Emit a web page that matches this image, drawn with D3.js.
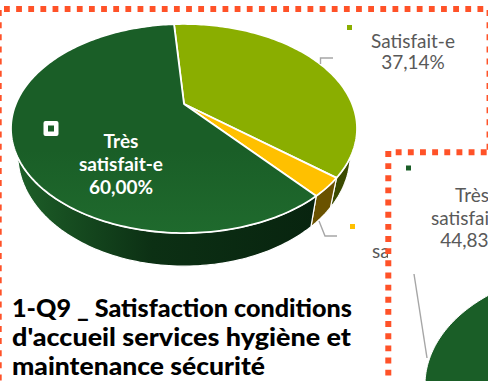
<!DOCTYPE html>
<html>
<head>
<meta charset="utf-8">
<script src="https://cdn.jsdelivr.net/npm/d3@7"></script>
<style>
  html, body { margin: 0; padding: 0; background: #fff; }
  svg { display: block; }
</style>
</head>
<body>
<div id="chart"></div>
<script>
// values
var categories = ["Satisfait-e", "Peu satisfait-e", "Très satisfait-e"];
var values = [37.14, 2.86, 60.00];
var labels = ["37,14%", "2,86%", "60,00%"];
var colors = ["#8aae00", "#ffc000", "#1a5e27"];
var wallColors = ["#3b4a00", "#6a5200", "#0b2c12"];

var secondCategories = ["Très satisfait-e"];
var secondValues = [44.83, 55.17];
var secondLabels = ["44,83%"];

var titleLines = [
  "1-Q9 _ Satisfaction conditions",
  "d'accueil services hygiène et",
  "maintenance sécurité"
];
var titleWidths = [340, 339, 253];

var w = 488, h = 381;
var orange = "#ff5228";
var textFont = "Lato, 'Open Sans', sans-serif";

var svg = d3.select("#chart").append("svg")
  .attr("width", w)
  .attr("height", h);

var defs = svg.append("defs");
var grad = defs.append("linearGradient").attr("id", "wallGreen");
grad.append("stop").attr("offset", "0%").attr("stop-color", "#1d5f28");
grad.append("stop").attr("offset", "45%").attr("stop-color", "#0c3014");
grad.append("stop").attr("offset", "100%").attr("stop-color", "#08240f");

var faceGrad = defs.append("linearGradient").attr("id", "faceGreen")
  .attr("x1", 0).attr("y1", 0).attr("x2", 0).attr("y2", 1);
faceGrad.append("stop").attr("offset", "60%").attr("stop-color", "#1a5e27");
faceGrad.append("stop").attr("offset", "100%").attr("stop-color", "#1f6a2d");

// the pie is tilted: circle points go through a perspective projection
function project(p, a) {
  var u = Math.sin(a), v = Math.cos(a);
  var d = 1 + p.k * v;
  return [p.x + p.a * u / d, p.y - p.b * v / d];
}

function sample(p, a0, a1) {
  var n = Math.max(2, Math.ceil(Math.abs(a1 - a0) / 0.02));
  return d3.range(n + 1).map(function(i) {
    return project(p, a0 + (a1 - a0) * i / n);
  });
}

var line = d3.line();
var rad = Math.PI / 180;

var topFace = { x: 184, y: 104, a: 168.2, b: 98.8, k: 0.2344 };
var lowFace = { x: 184, y: 129, a: 161.5, b: 105, k: 0.2344 };

var startAngle = -4.2 * rad;
var pie = d3.pie().sort(null).startAngle(startAngle).endAngle(startAngle + 2 * Math.PI);
var slices = pie(values);

// side walls, only the front part of the rim shows
// the back ends of the rim narrow down to a tip on each side
slices.forEach(function(d, i) {
  var a0 = d.startAngle, a1 = d.endAngle, b0 = a0, b1 = a1;
  if (i == 0) { a0 = 118 * rad; b0 = 110 * rad; }
  if (i == 2) { a1 = 242 * rad; b1 = 250 * rad; }
  var pts = sample(topFace, a0, a1).concat(sample(lowFace, b1, b0));
  svg.append("path")
    .attr("d", line(pts) + "Z")
    .attr("fill", i == 2 ? "url(#wallGreen)" : wallColors[i])
    .attr("stroke", "#fff")
    .attr("stroke-width", 1.2)
    .attr("stroke-linejoin", "round");
});

// top faces
slices.forEach(function(d, i) {
  var pts = [[topFace.x, topFace.y]].concat(sample(topFace, d.startAngle, d.endAngle));
  svg.append("path")
    .attr("d", line(pts) + "Z")
    .attr("fill", i == 2 ? "url(#faceGreen)" : colors[i])
    .attr("stroke", "#fff")
    .attr("stroke-width", 1.8)
    .attr("stroke-linejoin", "round");
});

// white legend key on the big slice
svg.append("rect").attr("x", 43.5).attr("y", 121).attr("width", 15).attr("height", 15)
  .attr("rx", 2).attr("fill", "#fff");
svg.append("rect").attr("x", 48).attr("y", 125.5).attr("width", 6).attr("height", 6)
  .attr("fill", colors[2]);

var bigLabel = svg.append("g")
  .attr("font-family", textFont)
  .attr("font-size", 19)
  .attr("font-weight", 700)
  .attr("fill", "#fff")
  .attr("text-anchor", "middle");
bigLabel.append("text").attr("x", 121).attr("y", 148).text("Très");
bigLabel.append("text").attr("x", 121).attr("y", 171).text("satisfait-e");
bigLabel.append("text").attr("x", 121).attr("y", 194).text(labels[2]);

// leader lines
var leader = d3.line();
svg.append("path")
  .attr("d", leader([[320.5, 64], [320.5, 58], [333, 58]]))
  .attr("fill", "none").attr("stroke", "#a6a6a6").attr("stroke-width", 1.4);
svg.append("path")
  .attr("d", leader([[319, 221], [325, 236], [337, 236]]))
  .attr("fill", "none").attr("stroke", "#a6a6a6").attr("stroke-width", 1.4);

// outside labels with their small keys
svg.append("rect").attr("x", 347).attr("y", 25).attr("width", 5).attr("height", 5).attr("fill", colors[0]);
svg.append("rect").attr("x", 350).attr("y", 224).attr("width", 5).attr("height", 5).attr("fill", colors[1]);

var outLabel = svg.append("g")
  .attr("font-family", textFont)
  .attr("font-size", 19)
  .attr("fill", "#595959")
  .attr("text-anchor", "middle");
outLabel.append("text").attr("x", 413).attr("y", 48).text(categories[0]);
outLabel.append("text").attr("x", 413).attr("y", 69).text(labels[0]);
// this one runs under the second panel, only its start shows
outLabel.append("text").attr("x", 372).attr("y", 258).attr("text-anchor", "start").text("satisfait-e");

// title, stretched to the widths of the reference lines
var title = svg.append("g")
  .attr("font-family", textFont)
  .attr("font-size", 24)
  .attr("font-weight", 900)
  .attr("fill", "#000");
title.selectAll("text")
  .data(titleLines)
  .enter()
  .append("text")
  .attr("x", 12)
  .attr("y", function(d, i) { return 317 + i * 29; })
  .attr("textLength", function(d, i) { return titleWidths[i]; })
  .attr("lengthAdjust", "spacingAndGlyphs")
  .text(function(d) { return d; });

// first panel border
function dotted(x1, y1, x2, y2, width, dash) {
  svg.append("line")
    .attr("x1", x1).attr("y1", y1).attr("x2", x2).attr("y2", y2)
    .attr("stroke", orange)
    .attr("stroke-width", width)
    .attr("stroke-dasharray", dash);
}
dotted(4, 9, 488, 9, 6, "5.8 6.34");
dotted(0.8, 10, 0.8, 381, 1.8, "6 6.15");
dotted(487.3, 10, 487.3, 150, 1.5, "6 6.15");

// second panel sits on top of the first one
svg.append("rect").attr("x", 388).attr("y", 153).attr("width", 100).attr("height", 228).attr("fill", "#fff");

var secondFace = { x: 598, y: 385, a: 173, b: 116, k: 0 };
var secondSlice = d3.pie().sort(null).startAngle(Math.PI).endAngle(3 * Math.PI)(secondValues)[0];
var secondPts = [[secondFace.x, secondFace.y]].concat(sample(secondFace, secondSlice.startAngle, secondSlice.endAngle));
svg.append("path")
  .attr("d", line(secondPts) + "Z")
  .attr("fill", colors[2])
  .attr("stroke", "#fff")
  .attr("stroke-width", 1);

svg.append("path")
  .attr("d", leader([[414, 274], [427, 358]]))
  .attr("fill", "none").attr("stroke", "#a6a6a6").attr("stroke-width", 1.4);

svg.append("rect").attr("x", 406).attr("y", 165.5).attr("width", 5).attr("height", 5).attr("fill", colors[2]);

var secondLabel = svg.append("g")
  .attr("font-family", textFont)
  .attr("font-size", 19)
  .attr("fill", "#595959")
  .attr("text-anchor", "middle");
secondLabel.append("text").attr("x", 472).attr("y", 202).text("Très");
secondLabel.append("text").attr("x", 472).attr("y", 225).text("satisfait-e");
secondLabel.append("text").attr("x", 472).attr("y", 247).text(secondLabels[0]);

dotted(395.7, 152.3, 488, 152.3, 6, "5.9 6.25");
dotted(388.3, 151, 388.3, 381, 6, "5.9 6.25");
</script>
</body>
</html>
